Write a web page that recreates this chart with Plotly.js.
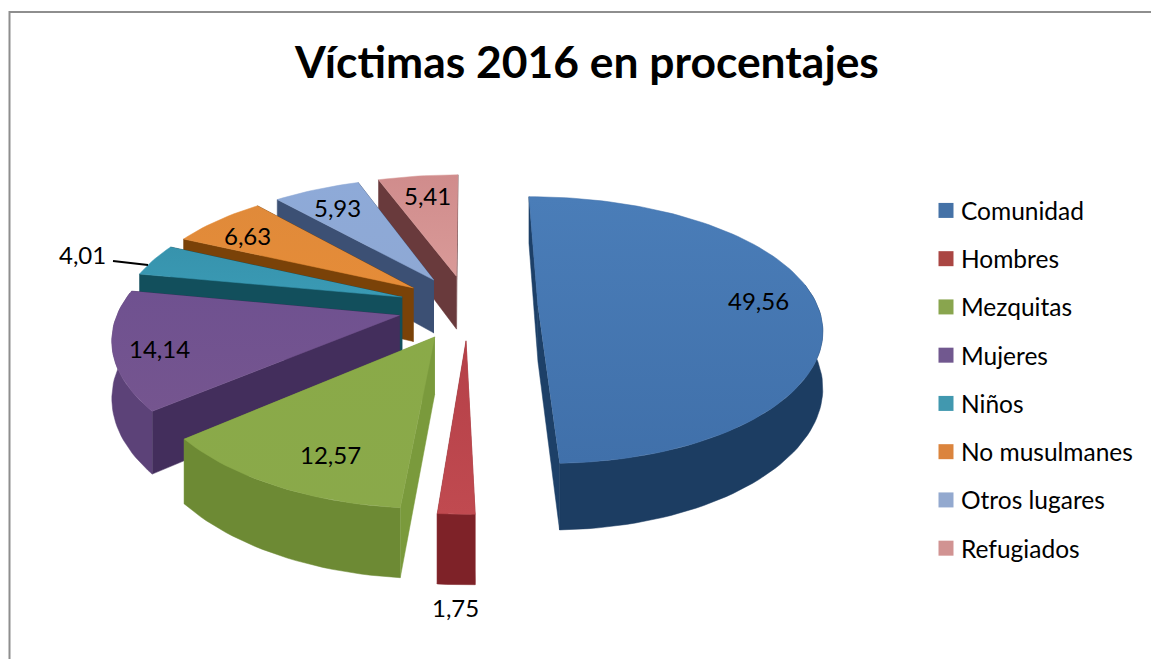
<!DOCTYPE html>
<html><head><meta charset="utf-8">
<script src="https://cdn.plot.ly/plotly-3.0.1.min.js"></script>
<style>html,body{margin:0;padding:0;background:#fff;overflow:hidden}</style>
</head><body><div id="chart" style="width:1151px;height:659px"></div>
<script>
const categories = ["Comunidad","Hombres","Mezquitas","Mujeres","Niños","No musulmanes","Otros lugares","Refugiados"];
const values = [49.56,1.75,12.57,14.14,4.01,6.63,5.93,5.41];
const chartTitle = "Víctimas 2016 en procentajes";
const legendColors = ["#4572a7","#aa4643","#89a54e","#71588f","#4198af","#db843d","#93a9cf","#d19392"];
const faceTop = ["#4070aa","#c04a50","#8aa94a","#75558f","#3a9ab4","#e58c38","#8ea8d4","#d99a98"];
const faceBottom = ["#4a7db8","#b54048","#8aaa48","#6f5190","#3793ad","#e08a3a","#8eaad8","#d08c8c"];
const sideDark = ["#1c3d62","#7e2228","#6d8a34","#5c4278","#12525f","#7a4208","#3c4f72","#6b3c3e"];
const radialDark = ["#1d4068","#8a2a2e","#7a9a3c","#432e5c","#124f5c","#7a4208","#3c5074","#693a3c"];
const labelSpots = [[758,300],[455,607],[330,454],[159,348],[82,254],[247,235],[337,207],[427,195]];

/* projection of the exploded tilted disc */
const X0 = 468, HORIZON = -428, H = 735, K = 0.176, A = 280, XP = 0.85, PULL = 0.25, THICK = 55;
function project(a, b, low) {
  const s = 1 / (1 - K * b);
  return [X0 + A * a * Math.pow(s, XP), HORIZON + (H + (low ? THICK : 0)) * s];
}
const total = values.reduce((p, c) => p + c, 0);
let run = 0;
const slices = values.map((v, i) => {
  const a0 = run / total * 2 * Math.PI; run += v;
  const a1 = run / total * 2 * Math.PI;
  const mid = (a0 + a1) / 2;
  return {i, a0, a1, ox: PULL * Math.sin(mid), oy: -PULL * Math.cos(mid)};
});
function rim(s, low, from, to) {
  const b0 = from === undefined ? s.a0 : from, b1 = to === undefined ? s.a1 : to;
  const n = Math.max(4, Math.ceil((b1 - b0) / 0.03));
  const pts = [];
  for (let j = 0; j <= n; j++) {
    const t = b0 + (b1 - b0) * j / n;
    pts.push(project(s.ox + Math.sin(t), s.oy - Math.cos(t), low));
  }
  return pts;
}
function poly(pts, color, color2) {
  const tr = {type:"scatter", mode:"lines", x:pts.map(p=>p[0]), y:pts.map(p=>p[1]), fill:"toself",
    line:{width:0.5, color:color}, showlegend:false, hoverinfo:"skip"};
  if (color2) {
    tr.fillgradient = {type:"vertical", colorscale:[[0,color],[1,color2]]};
  } else tr.fillcolor = color;
  return tr;
}
const traces = [];
/* back-to-front painter order */
const order = [7,6,5,4,3,2,1,0];
const FRONT0 = 80 * Math.PI / 180, FRONT1 = 280 * Math.PI / 180;
order.forEach(i => {
  const s = slices[i];
  const topRim = rim(s,false), lowRim = rim(s,true);
  const apexT = project(s.ox, s.oy, false), apexL = project(s.ox, s.oy, true);
  const walls = [
    {b:Math.cos(s.a0), pts:[apexT, topRim[0], lowRim[0], apexL]},
    {b:Math.cos(s.a1), pts:[apexT, topRim[topRim.length-1], lowRim[lowRim.length-1], apexL]}
  ].sort((p,q)=>q.b-p.b);
  walls.forEach(w => traces.push(poly(w.pts, radialDark[i])));
  const f0 = Math.max(s.a0, FRONT0), f1 = Math.min(s.a1, FRONT1);
  if (f1 > f0) traces.push(poly(rim(s,false,f0,f1).concat(rim(s,true,f0,f1).reverse()), sideDark[i]));
  traces.push(poly([apexT].concat(topRim), faceTop[i], faceBottom[i]));
});
/* leader line for the small slice */
traces.push({type:"scatter", mode:"lines", x:[113,148], y:[261,265], line:{color:"#000",width:2},
  showlegend:false, hoverinfo:"skip"});
/* legend keys */
categories.forEach((c,i) => traces.push({type:"scatter", mode:"markers", x:[null], y:[null], name:c,
  legendgroup:c, marker:{symbol:"square", size:15, color:legendColors[i], line:{width:0}}, hoverinfo:"skip"}));

const annotations = values.map((v,i) => ({
  x:labelSpots[i][0], y:labelSpots[i][1], xref:"x", yref:"y", showarrow:false,
  text:v.toFixed(2).replace(".",","), font:{family:"Lato, 'Open Sans', sans-serif", size:24, color:"#000"}
}));
const layout = {
  width:1151, height:659, margin:{l:0,r:0,t:0,b:0}, paper_bgcolor:"#fff", plot_bgcolor:"#fff",
  title:{text:"<b>"+chartTitle+"</b>", x:587/1151, xanchor:"center", y:1-62/659, yanchor:"middle", yref:"container",
    font:{family:"Lato, 'Open Sans', sans-serif", size:44.4, color:"#000"}},
  xaxis:{visible:false, range:[0,1151], fixedrange:true},
  yaxis:{visible:false, range:[659,0], fixedrange:true},
  showlegend:true,
  legend:{x:921/1151, xanchor:"left", y:1-188/659, yanchor:"top", bgcolor:"rgba(0,0,0,0)", borderwidth:0,
    traceorder:"grouped", tracegroupgap:13.4, itemclick:false, itemdoubleclick:false,
    font:{family:"Lato, 'Open Sans', sans-serif", size:24.5, color:"#000"}},
  annotations,
  shapes:[
    {type:"line", xref:"x", yref:"y", x0:9.5, x1:9.5, y0:11, y1:659, line:{color:"#8e8e8e",width:2}},
    {type:"line", xref:"x", yref:"y", x0:9, x1:1151, y0:12, y1:12, line:{color:"#8e8e8e",width:2}}
  ]
};
Plotly.newPlot("chart", traces, layout, {displayModeBar:false}).then(() => {
  document.querySelectorAll("#chart .legend .legendsymbols").forEach(n => n.setAttribute("transform","translate(5,0)"));
});
</script></body></html>
